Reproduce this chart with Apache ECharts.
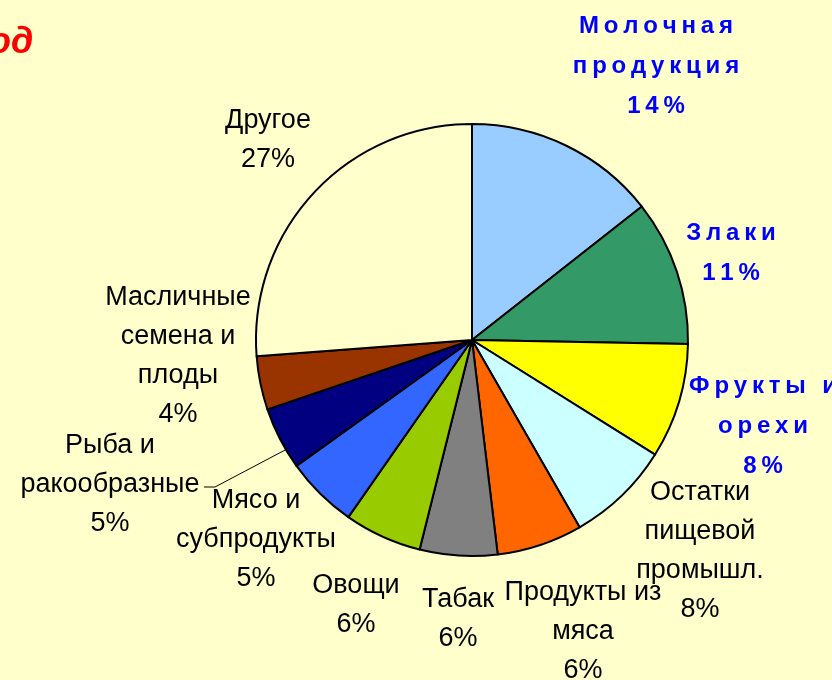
<!DOCTYPE html>
<html>
<head>
    <meta charset="utf-8">
    <style>
        html, body { margin: 0; padding: 0; background: #FFFFCC; }
        #container { width: 832px; height: 680px; }
    </style>
</head>
<body>
    <div id="container"></div>
    <script src="https://cdn.jsdelivr.net/npm/echarts@6/dist/echarts.min.js"></script>
    <script type="text/javascript">
        // slice names and shares (values measured from the slice angles)
        let names = ['Молочная\nпродукция', 'Злаки', 'Фрукты и\nорехи', 'Остатки\nпищевой\nпромышл.',
            'Продукты из\nмяса', 'Табак', 'Овощи', 'Мясо и\nсубпродукты', 'Рыба и\nракообразные',
            'Масличные\nсемена и\nплоды', 'Другое'];
        let values = [14.4, 10.9, 8.6, 7.8, 6.4, 5.8, 5.8, 5.4, 4.7, 4.0, 26.2];
        // percent labels as printed on the chart
        let pctLabels = ['14%', '11%', '8%', '8%', '6%', '6%', '6%', '5%', '5%', '4%', '27%'];
        let colors = ['#99CCFF', '#339966', '#FFFF00', '#CCFFFF', '#FF6600', '#808080',
            '#99CC00', '#3366FF', '#000080', '#993300', '#FFFFCC'];
        let blueLabels = 3; // first slices have the bold blue labels

        // label centres
        let labelPos = [[656, 66], [731, 253], [763, 426], [700, 551], [583, 632], [458, 619],
            [356, 605], [256, 540], [110, 485], [178, 356], [268, 140]];

        var fontFamily = '"Liberation Sans", Arial, sans-serif';

        function spaced(p) {
            let text = names[p.dataIndex] + '\n' + pctLabels[p.dataIndex];
            return text.split('\n').map(function (line) {
                return line.split('').map(function (c) { return '{s|' + c + '}'; }).join('');
            }).join('\n');
        }

        let data = [];
        for (let i = 0; i < values.length; i++) {
            let item = {
                name: names[i],
                value: values[i],
                itemStyle: { color: colors[i] }
            };
            if (i < blueLabels) {
                item.label = {
                    formatter: spaced,
                    rich: {
                        s: {
                            fontFamily: fontFamily,
                            fontSize: 24,
                            fontWeight: 'bold',
                            color: '#0000FF',
                            lineHeight: 40,
                            padding: [0, 2.4, 0, 2.4]
                        }
                    }
                };
            }
            if (i === 8) {
                item.labelLine = { show: true, lineStyle: { color: '#000', width: 1 } };
            }
            data.push(item);
        }

        var dom = document.getElementById('container');
        var myChart = echarts.init(dom, null, { renderer: 'canvas' });

        var option = {
            backgroundColor: '#FFFFCC',
            animation: false,
            title: {
                text: 'од',
                left: -16,
                top: 20,
                textStyle: {
                    fontFamily: fontFamily,
                    fontSize: 36,
                    fontWeight: 'bold',
                    fontStyle: 'italic',
                    color: '#FF0000'
                }
            },
            series: [
                {
                    type: 'pie',
                    center: [472, 340],
                    radius: 216,
                    startAngle: 90,
                    clockwise: true,
                    avoidLabelOverlap: false,
                    itemStyle: {
                        borderColor: '#000',
                        borderWidth: 2
                    },
                    label: {
                        show: true,
                        position: 'outside',
                        fontFamily: fontFamily,
                        fontSize: 27,
                        color: '#000',
                        lineHeight: 39,
                        align: 'center',
                        formatter: function (p) {
                            return names[p.dataIndex] + '\n' + pctLabels[p.dataIndex];
                        }
                    },
                    labelLine: { show: false },
                    labelLayout: function (params) {
                        let pos = labelPos[params.dataIndex];
                        let res = {
                            x: pos[0],
                            y: pos[1],
                            align: 'center',
                            verticalAlign: 'middle'
                        };
                        if (params.dataIndex === 8) {
                            res.labelLinePoints = [[287, 449], [215, 487], [204, 487]];
                        }
                        return res;
                    },
                    emphasis: { disabled: true },
                    data: data
                }
            ]
        };

        myChart.setOption(option);
        window.addEventListener('resize', myChart.resize);
    </script>
</body>
</html>
